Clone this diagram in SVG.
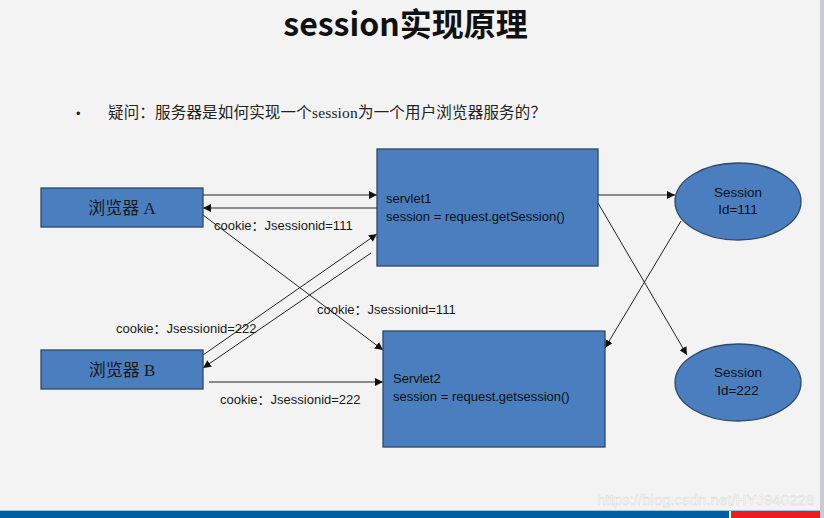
<svg xmlns="http://www.w3.org/2000/svg" width="824" height="518" viewBox="0 0 824 518">
<style>
.box{fill:#4a7ebf;stroke:#2f4866;stroke-width:1.3}
.conn{stroke:#222;stroke-width:1;fill:none;marker-end:url(#ah)}
.lbl{font-family:"Liberation Sans","Noto Sans CJK SC",Arial,sans-serif;font-size:13px;fill:#1a1a1a}
.cn{font-family:"Liberation Serif","Noto Sans CJK SC",serif;font-size:17px;fill:#1a1a1a}
.sv{font-family:"Liberation Sans",Arial,sans-serif;font-size:13px;fill:#111}
.ses{font-family:"Liberation Sans",Arial,sans-serif;font-size:13.5px;fill:#111;text-anchor:middle}
</style>
<defs>
<marker id="ah" viewBox="0 0 10 10" refX="10" refY="5" markerWidth="8" markerHeight="8" markerUnits="userSpaceOnUse" orient="auto">
<path d="M0,0 L10,5 L0,10 z" fill="#111"/>
</marker>
</defs>
<rect x="0" y="0" width="824" height="518" fill="#f3f3f3"/>
<rect x="820" y="0" width="4" height="510" fill="#c9cad2"/>
<text x="405.5" y="36" text-anchor="middle" font-family="'Noto Sans CJK SC','Noto Sans',sans-serif" font-weight="bold" font-size="32" fill="#111">session实现原理</text>
<text x="76" y="118" font-family="'Liberation Sans',sans-serif" font-size="13" fill="#222">•</text>
<text x="108" y="118" font-family="'Liberation Serif','Noto Sans CJK SC',serif" font-size="15.5" fill="#222" textLength="438" lengthAdjust="spacing">疑问：服务器是如何实现一个session为一个用户浏览器服务的？</text>

<g id="connectors">
<line class="conn" x1="203" y1="195" x2="377" y2="195"/>
<line class="conn" x1="377" y1="208" x2="203" y2="208"/>
<line class="conn" x1="203" y1="215" x2="383" y2="350"/>
<line class="conn" x1="203" y1="355" x2="377" y2="234"/>
<line class="conn" x1="371" y1="253" x2="203" y2="368"/>
<line class="conn" x1="209" y1="382" x2="383" y2="382"/>
<line class="conn" x1="598" y1="195" x2="675" y2="195"/>
<line class="conn" x1="598" y1="203" x2="687" y2="355"/>
<line class="conn" x1="681" y1="221" x2="605" y2="348"/>
<text class="lbl" x="214" y="230">cookie：Jsessionid=111</text>
<text class="lbl" x="317" y="314">cookie：Jsessionid=111</text>
<text class="lbl" x="116" y="333">cookie：Jsessionid=222</text>
<text class="lbl" x="220" y="404">cookie：Jsessionid=222</text>
</g>

<g id="browserA">
<rect class="box" x="41" y="188" width="162" height="39"/>
<text class="cn" x="122" y="214" text-anchor="middle">浏览器 A</text>
</g>
<g id="browserB">
<rect class="box" x="41" y="350" width="162" height="39"/>
<text class="cn" x="122" y="376" text-anchor="middle">浏览器 B</text>
</g>
<g id="servlet1">
<rect class="box" x="377" y="149" width="221" height="117"/>
<text class="sv" x="386" y="203">servlet1</text>
<text class="sv" x="386" y="221">session = request.getSession()</text>
</g>
<g id="servlet2">
<rect class="box" x="383" y="331" width="222" height="116"/>
<text class="sv" x="393" y="383">Servlet2</text>
<text class="sv" x="393" y="401">session = request.getsession()</text>
</g>
<g id="session111">
<ellipse class="box" cx="738" cy="201.5" rx="63" ry="38.5"/>
<text class="ses" x="738" y="197">Session</text>
<text class="ses" x="738" y="214">Id=111</text>
</g>
<g id="session222">
<ellipse class="box" cx="738" cy="382.5" rx="63" ry="38.5"/>
<text class="ses" x="738" y="377">Session</text>
<text class="ses" x="738" y="395">Id=222</text>
</g>

<text x="814" y="505" text-anchor="end" font-family="'Liberation Sans',sans-serif" font-size="15" fill="#ffffff" opacity="0.85" stroke="#d6d6d6" stroke-width="0.5">https://blog.csdn.net/HYJ940228</text>
<rect x="0" y="510" width="824" height="1" fill="#9cc3e0"/>
<rect x="0" y="511" width="729" height="7" fill="#005ea3"/>
<rect x="731" y="511" width="89" height="7" fill="#ee1c1c"/>
<rect x="820" y="510" width="4" height="8" fill="#c9cad2"/>
</svg>
